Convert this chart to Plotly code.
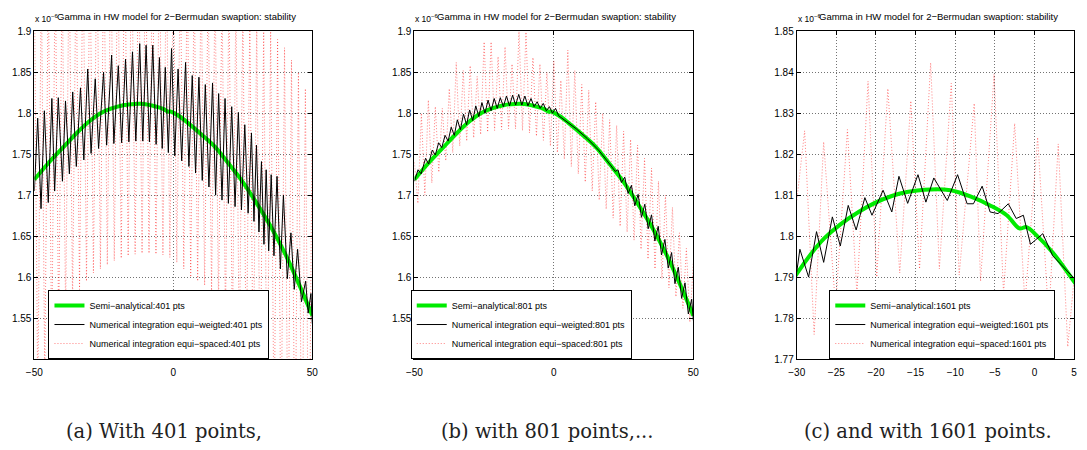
import plotly.graph_objects as go

# ---------------- data (units of 1e-6) ----------------
# Semi-analytical gamma (same curve in all three panels)
g_x = [-50, -45, -40, -35, -30, -26.5, -22.2, -18, -13.9, -10.6, -7.7, -5.6, -3.5, -1.9, -1.0,
       0.2, 2.3, 5, 10, 15, 20, 25, 30, 35, 40, 45, 50]
g_y = [1.719, 1.739, 1.757, 1.775, 1.7908, 1.7995, 1.8059, 1.8098, 1.8113, 1.8112, 1.8094, 1.8075,
       1.8051, 1.8019, 1.8022, 1.8003, 1.796, 1.7889, 1.7745, 1.759, 1.738, 1.716, 1.690, 1.662,
       1.630, 1.593, 1.553]

# Panel (a): equi-weighted numerical integration, 401 pts (peaks / troughs)
a_blk_x = [-50, -48.8, -47.6, -46.4, -45.0, -43.7, -42.7, -41.4, -39.9, -38.8, -37.4, -36.2, -34.9,
           -33.4, -32.2, -30.8, -29.6, -28.1, -26.9, -25.1, -24.0, -22.2, -21.4, -19.8, -18.6, -17.2,
           -16.0, -14.7, -13.5, -12.1, -11.0, -9.8, -8.6, -7.4, -6.2, -5.0, -4.0, -2.9, -1.8, -0.65,
           0.5, 1.7, 3.0, 4.4, 5.6, 6.8, 8.0, 9.2, 10.4, 11.5, 12.8, 14.1, 15.2, 16.3, 17.5, 18.6,
           19.8, 21.0, 22.2, 23.4, 24.5, 25.7, 26.9, 28.1, 29.0, 29.9, 30.8, 31.7, 32.6, 33.4, 34.3,
           35.2, 36.2, 37.3, 38.5, 39.6, 41.0, 42.3, 43.5, 44.7, 46.1, 47.6, 48.5, 49.5, 50]
a_blk_y = [1.705, 1.794, 1.6835, 1.803, 1.691, 1.818, 1.705, 1.819, 1.717, 1.815, 1.726, 1.826, 1.735,
           1.831, 1.743, 1.854, 1.751, 1.842, 1.757, 1.850, 1.761, 1.871, 1.763, 1.858, 1.764, 1.866,
           1.765, 1.875, 1.766, 1.885, 1.766, 1.883, 1.765, 1.883, 1.762, 1.868, 1.757, 1.856, 1.752,
           1.879, 1.748, 1.854, 1.742, 1.862, 1.735, 1.846, 1.727, 1.844, 1.718, 1.835, 1.710, 1.837,
           1.700, 1.824, 1.694, 1.818, 1.690, 1.808, 1.686, 1.801, 1.682, 1.786, 1.678, 1.776, 1.668,
           1.761, 1.655, 1.741, 1.640, 1.731, 1.632, 1.725, 1.626, 1.723, 1.610, 1.700, 1.598, 1.654,
           1.585, 1.634, 1.570, 1.595, 1.556, 1.580, 1.543]

# Panel (a): equi-spaced, 401 pts (upper turning points every 2.5, lower in between)
a_red_hi = [1.96, 1.98, 1.97, 1.99, 1.98, 2.00, 1.99, 2.01, 2.00, 2.02, 2.01, 2.02, 2.01, 2.02, 2.02,
            2.01, 2.01, 2.00, 2.00, 1.99, 1.98, 1.98, 1.97, 1.96, 1.97, 1.96, 1.96, 1.95, 1.95, 1.94,
            1.93, 1.92, 1.915, 1.905, 1.90, 1.89, 1.88, 1.865, 1.85, 1.83, 1.81]
a_red_lo = [1.44, 1.47, 1.50, 1.53, 1.55, 1.57, 1.585, 1.595, 1.605, 1.61, 1.615, 1.62, 1.623, 1.626,
            1.628, 1.629, 1.629, 1.628, 1.627, 1.624, 1.618, 1.61, 1.60, 1.595, 1.59, 1.58, 1.565,
            1.545, 1.52, 1.50, 1.48, 1.46, 1.44, 1.42, 1.40, 1.38, 1.36, 1.34, 1.32, 1.30]

# Panel (b): equi-weighted, 801 pts
b_blk_x = [-50, -48.7, -47.6, -46.0, -44.9, -43.6, -42.5, -41.3, -40.2, -39.0, -37.9, -36.8, -35.7,
           -34.6, -33.5, -32.4, -31.3, -30.2, -29.1, -28.0, -26.9, -25.8, -24.7, -23.6, -22.5, -21.4,
           -20.3, -19.2, -18.1, -17.0, -15.9, -14.8, -13.7, -12.6, -11.5, -10.4, -9.3, -8.2, -7.1,
           -6.0, -4.9, -3.8, -2.7, -1.6, -0.5, 0.6, 1.7, 4, 8, 12, 16, 20, 22, 23, 24.2, 25.4, 26.6,
           27.8, 29.0, 30.2, 31.4, 32.6, 33.8, 35.0, 36.2, 37.4, 38.6, 39.8, 41.0, 42.2, 43.4, 44.6,
           45.8, 47.0, 48.2, 49.4, 50]
b_blk_y = [1.717, 1.731, 1.726, 1.745, 1.738, 1.755, 1.749, 1.764, 1.758, 1.773, 1.766, 1.783, 1.773,
           1.792, 1.780, 1.799, 1.786, 1.804, 1.791, 1.809, 1.796, 1.813, 1.800, 1.816, 1.803, 1.818,
           1.806, 1.819, 1.808, 1.821, 1.809, 1.822, 1.810, 1.823, 1.810, 1.821, 1.809, 1.818, 1.808,
           1.814, 1.806, 1.812, 1.803, 1.808, 1.800, 1.806, 1.797, 1.7915, 1.781, 1.769, 1.755, 1.738,
           1.729, 1.731, 1.7155, 1.722, 1.702, 1.712, 1.687, 1.701, 1.673, 1.689, 1.659, 1.676, 1.644,
           1.662, 1.627, 1.646, 1.611, 1.630, 1.592, 1.612, 1.574, 1.593, 1.555, 1.573, 1.547]

# Panel (b): equi-spaced, 801 pts
b_red_hi = [1.74, 1.80, 1.816, 1.808, 1.806, 1.83, 1.862, 1.852, 1.858, 1.845, 1.887, 1.887, 1.869,
            1.881, 1.86, 1.90, 1.899, 1.868, 1.86, 1.85, 1.864, 1.84, 1.877, 1.852, 1.835, 1.828,
            1.814, 1.80, 1.792, 1.785, 1.778, 1.768, 1.761, 1.745, 1.733, 1.717, 1.70, 1.685, 1.654,
            1.635, 1.618]
b_red_lo = [1.69, 1.70, 1.715, 1.728, 1.742, 1.752, 1.760, 1.766, 1.770, 1.774, 1.777, 1.779, 1.780,
            1.781, 1.781, 1.779, 1.776, 1.772, 1.767, 1.760, 1.752, 1.744, 1.735, 1.726, 1.716, 1.705,
            1.694, 1.683, 1.672, 1.662, 1.655, 1.645, 1.634, 1.622, 1.61, 1.598, 1.587, 1.576, 1.562,
            1.545]

# Panel (c): equi-weighted, 1601 pts
c_blk_x = [-30, -29.6, -28.5, -27.5, -26.6, -25.5, -24.5, -23.5, -22.5, -21.4, -20.5, -19.1, -18.0,
           -17.1, -16.0, -14.7, -13.7, -12.7, -11.0, -9.7, -8.5, -7.7, -6.6, -5.6, -4.6, -3.3, -2.3,
           -1.4, -0.5, 1.05, 2.3, 5]
c_blk_y = [1.7912, 1.7968, 1.790, 1.8011, 1.7936, 1.8047, 1.7976, 1.8075, 1.8015, 1.8094, 1.8051,
           1.8112, 1.8059, 1.8146, 1.808, 1.815, 1.8083, 1.8142, 1.8087, 1.815, 1.8079, 1.8079, 1.8122,
           1.8059, 1.8055, 1.8079, 1.8043, 1.8051, 1.798, 1.8006, 1.7952, 1.7897]

# Panel (c): equi-spaced, 1601 pts
c_red_x = [-30.5, -29.0, -27.8, -26.6, -25.1, -23.6, -22.4, -21.0, -19.9, -18.5, -17.0, -15.6, -14.5,
           -13.1, -12.0, -10.5, -9.5, -7.6, -6.8, -5.1, -3.9, -2.5, -1.2, 0.4, 1.8, 3.0, 4.2, 5.5]
c_red_y = [1.80, 1.8257, 1.776, 1.823, 1.7826, 1.826, 1.7858, 1.8378, 1.790, 1.836, 1.791, 1.833,
           1.792, 1.8423, 1.792, 1.8373, 1.7905, 1.8324, 1.789, 1.8395, 1.786, 1.8275, 1.7835, 1.8241,
           1.780, 1.8225, 1.773, 1.80]

# Axis ticks and texts
ab_xticks = [-50, 0, 50]
ab_yticks = [1.55, 1.6, 1.65, 1.7, 1.75, 1.8, 1.85, 1.9]
c_xticks = [-30, -25, -20, -15, -10, -5, 0, 5]
c_yticks = [1.77, 1.78, 1.79, 1.80, 1.81, 1.82, 1.83, 1.84, 1.85]
npts = ["401", "801", "1601"]
captions = ["(a) With 401 points,", "(b) with 801 points,...", "(c) and with 1601 points."]
title_txt = "Gamma in HW model for 2\u2212Bermudan swaption: stability"


def zig(hi, lo, x0, step):
    xs, ys = [], []
    for i in range(len(lo)):
        xs += [x0 + step * i, x0 + step * i + step / 2]
        ys += [hi[i], lo[i]]
    xs.append(x0 + step * (len(hi) - 1))
    ys.append(hi[-1])
    return xs, ys


a_red_x, a_red_y = zig(a_red_hi, a_red_lo, -50, 2.5)
b_red_x, b_red_y = zig(b_red_hi, b_red_lo, -50, 2.5)

reds = [(a_red_x, a_red_y), (b_red_x, b_red_y), (c_red_x, c_red_y)]
blacks = [(a_blk_x, a_blk_y), (b_blk_x, b_blk_y), (c_blk_x, c_blk_y)]

FONT = "Liberation Sans, Arial, sans-serif"
GREEN = "rgb(0,235,0)"
RED = "rgba(255,0,0,0.5)"

fig = go.Figure()
for i in range(3):
    sfx = "" if i == 0 else str(i + 1)
    lg = "legend" + sfx
    xa, ya = "x" + sfx, "y" + sfx
    fig.add_trace(go.Scatter(x=reds[i][0], y=reds[i][1], mode="lines", xaxis=xa, yaxis=ya,
                             line=dict(color=RED, width=1, dash="1px,2px"),
                             name="Numerical integration equi\u2212spaced:%s pts" % npts[i],
                             legend=lg, legendrank=3))
    fig.add_trace(go.Scatter(x=g_x, y=g_y, mode="lines", xaxis=xa, yaxis=ya,
                             line=dict(color=GREEN, width=4, shape="spline", smoothing=1.0),
                             name="Semi\u2212analytical:%s pts" % npts[i],
                             legend=lg, legendrank=1))
    fig.add_trace(go.Scatter(x=blacks[i][0], y=blacks[i][1], mode="lines", xaxis=xa, yaxis=ya,
                             line=dict(color="black", width=1),
                             name="Numerical integration equi\u2212weigted:%s pts" % npts[i],
                             legend=lg, legendrank=2))

W, H = 1087.0, 450.0
xdom = [[26.7 / W, 308.3 / W], [411.7 / W, 694.3 / W], [799 / W, 1080 / W]]
ydom = [1 - 362.7 / H, 1 - 26 / H]
xr = [[-50, 50], [-50, 50], [-30, 5]]
yr = [[1.5, 1.9], [1.5, 1.9], [1.77, 1.85]]
xt = [ab_xticks, ab_xticks, c_xticks]
yt = [ab_yticks, ab_yticks, c_yticks]

common = dict(ticks="inside", ticklen=4, tickcolor="black", showline=True, linecolor="black",
              linewidth=1, mirror="ticks", showgrid=True, gridcolor="rgba(0,0,0,0.55)",
              griddash="1px,2px", gridwidth=1, zeroline=False,
              tickfont=dict(family=FONT, size=10, color="black"))

layout = dict(width=1087, height=450, margin=dict(l=0, r=0, t=0, b=0),
              paper_bgcolor="white", plot_bgcolor="white", showlegend=True)
legx = [41 / W, 408 / W, 832 / W]
cap_x = [158.5 / W, 546.5 / W, 932.5 / W]
title_x = [170.5 / W, 556 / W, 943 / W]
annotations = []
for i in range(3):
    sfx = "" if i == 0 else str(i + 1)
    layout["xaxis" + sfx] = dict(domain=xdom[i], anchor="y" + sfx, range=xr[i], tickvals=xt[i],
                                 ticklabelstandoff=4, **common)
    layout["yaxis" + sfx] = dict(domain=ydom, anchor="x" + sfx, range=yr[i], tickvals=yt[i], **common)
    layout["legend" + sfx] = dict(x=legx[i], y=ydom[0], xanchor="left", yanchor="bottom",
                                  bgcolor="white", bordercolor="black", borderwidth=1,
                                  font=dict(family=FONT, size=9, color="black"),
                                  itemwidth=30, tracegroupgap=0)
    annotations.append(dict(text=title_txt, x=title_x[i], y=1 - 11 / H, xref="paper", yref="paper",
                            xanchor="center", yanchor="middle", showarrow=False,
                            font=dict(family=FONT, size=9.5, color="black")))
    annotations.append(dict(text="x 10<sup>\u22126</sup>", x=xdom[i][0] - 1 / W, y=1 - 13 / H,
                            xref="paper", yref="paper", xanchor="left", yanchor="middle",
                            showarrow=False, font=dict(family=FONT, size=8.5, color="black")))
    annotations.append(dict(text=captions[i], x=cap_x[i], y=1 - 437 / H, xref="paper", yref="paper",
                            xanchor="center", yanchor="middle", showarrow=False,
                            font=dict(family="DejaVu Serif, Liberation Serif, serif", size=19.5,
                                      color="#222")))
layout["annotations"] = annotations
fig.update_layout(**layout)
fig.write_html("out.html")
